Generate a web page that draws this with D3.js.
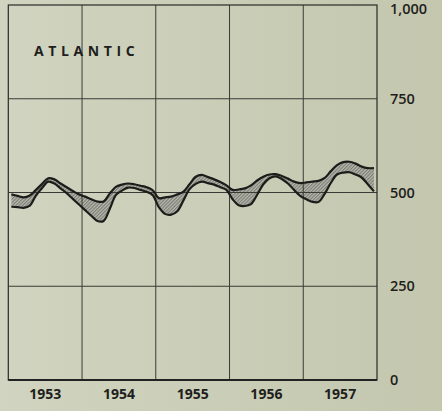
<!DOCTYPE html>
<html>
<head>
<meta charset="utf-8">
<script src="https://cdn.jsdelivr.net/npm/d3@7"></script>
<style>
  html, body { margin: 0; padding: 0; background: #ccd0ba; }
  svg { display: block; }
</style>
</head>
<body>
<div id="chart"></div>
<script>
(function () {

    var years = ["1953", "1954", "1955", "1956", "1957"];
    var yTicks = [0, 250, 500, 750, 1000];

    // monthly values, Jan 1953 - Dec 1957
    var upperSeries = [
        495, 491, 487, 492, 507, 523, 538, 535, 524, 514, 504, 495,
        489, 482, 476, 476, 497, 515, 521, 524, 522, 518, 514, 506,
        485, 487, 489, 495, 502, 522, 542, 547, 541, 535, 528, 519,
        507, 508, 511, 519, 532, 542, 548, 549, 544, 537, 529, 525,
        527, 529, 531, 539, 557, 573, 581, 582, 577, 569, 565, 565
    ];
    var lowerSeries = [
        462, 461, 459, 465, 492, 512, 529, 524, 511, 498, 483, 468,
        453, 438, 424, 424, 456, 493, 505, 513, 512, 507, 502, 493,
        461, 443, 441, 450, 479, 509, 523, 529, 525, 521, 514, 507,
        482, 466, 464, 469, 494, 522, 538, 543, 536, 524, 507, 491,
        482, 475, 475, 497, 526, 548, 553, 554, 548, 540, 522, 503
    ];

    var width = 442;
    var height = 411;
    var left = 8.3, right = 377, top = 5, bottom = 380;

    var data = upperSeries.map(function (d, i) {
        return { m: i, hi: d, lo: lowerSeries[i] };
    });

    var x = d3.scaleLinear().domain([0, upperSeries.length]).range([left, right]);
    var xYear = d3.scaleBand().domain(years).range([left, right]);
    var y = d3.scaleLinear().domain([0, 1000]).range([bottom, top]);

    var svg = d3.select("#chart").append("svg")
        .attr("width", width)
        .attr("height", height);

    var defs = svg.append("defs");
    var bg = defs.append("linearGradient").attr("id", "bg");
    bg.append("stop").attr("offset", "0%").attr("stop-color", "#d0d4c0");
    bg.append("stop").attr("offset", "100%").attr("stop-color", "#c4c7ae");

    var hatch = defs.append("pattern")
        .attr("id", "hatch")
        .attr("patternUnits", "userSpaceOnUse")
        .attr("width", 2.4)
        .attr("height", 2.4)
        .attr("patternTransform", "rotate(45)");
    hatch.append("rect").attr("width", 2.4).attr("height", 2.4).attr("fill", "#b6b8ad");
    hatch.append("line")
        .attr("x1", 0.6).attr("y1", 0).attr("x2", 0.6).attr("y2", 2.4)
        .attr("stroke", "#6c6e66").attr("stroke-width", 0.9);

    svg.append("rect")
        .attr("width", width).attr("height", height)
        .attr("fill", "url(#bg)");

    var cx = function (d) { return x(d.m + 0.5); };
    var curve = d3.curveCatmullRom.alpha(0.5);

    // band between the two lines
    svg.append("path")
        .datum(data)
        .attr("fill", "url(#hatch)")
        .attr("d", d3.area().x(cx).y0(function (d) { return y(d.lo); })
            .y1(function (d) { return y(d.hi); }).curve(curve));

    // grid
    svg.append("g")
        .selectAll("line")
        .data([250, 500, 750])
        .enter()
        .append("line")
        .attr("x1", left).attr("x2", right)
        .attr("y1", function (d) { return y(d); })
        .attr("y2", function (d) { return y(d); })
        .attr("stroke", "#3a3b35")
        .attr("stroke-width", 1);

    svg.append("g")
        .selectAll("line")
        .data(years.slice(1))
        .enter()
        .append("line")
        .attr("x1", function (d) { return xYear(d); })
        .attr("x2", function (d) { return xYear(d); })
        .attr("y1", top).attr("y2", bottom)
        .attr("stroke", "#3a3b35")
        .attr("stroke-width", 1);

    svg.append("rect")
        .attr("x", left).attr("y", top)
        .attr("width", right - left).attr("height", bottom - top)
        .attr("fill", "none")
        .attr("stroke", "#2a2b26")
        .attr("stroke-width", 1.2);

    svg.append("line")
        .attr("x1", left).attr("x2", right)
        .attr("y1", bottom).attr("y2", bottom)
        .attr("stroke", "#222")
        .attr("stroke-width", 1.8);

    // the two lines
    ["hi", "lo"].forEach(function (k) {
        svg.append("path")
            .datum(data)
            .attr("fill", "none")
            .attr("stroke", "#1c1c1a")
            .attr("stroke-width", 2.2)
            .attr("stroke-linejoin", "round")
            .attr("d", d3.line().x(cx).y(function (d) { return y(d[k]); }).curve(curve));
    });

    // axes
    var yAxis = svg.append("g")
        .attr("transform", "translate(" + right + ",0)")
        .call(d3.axisRight(y).tickValues(yTicks).tickFormat(d3.format(",")).tickSize(0).tickPadding(13));
    yAxis.select(".domain").remove();
    yAxis.selectAll("text")
        .attr("font-family", "'Open Sans', sans-serif")
        .attr("font-weight", 600)
        .attr("font-size", 14.5)
        .attr("fill", "#1e1e1c");
    // keep the top label inside the window
    yAxis.selectAll(".tick")
        .filter(function (d) { return d === 1000; })
        .select("text")
        .attr("dy", "0.32em")
        .attr("y", 4);

    var xAxis = svg.append("g")
        .attr("transform", "translate(0," + bottom + ")")
        .call(d3.axisBottom(xYear).tickSize(0).tickPadding(9));
    xAxis.select(".domain").remove();
    xAxis.selectAll("text")
        .attr("font-family", "'Open Sans', sans-serif")
        .attr("font-weight", 700)
        .attr("font-size", 14)
        .attr("fill", "#1e1e1c");

    svg.append("text")
        .attr("x", 34)
        .attr("y", 56)
        .attr("font-family", "'Open Sans', sans-serif")
        .attr("font-weight", 700)
        .attr("font-size", 14)
        .attr("letter-spacing", "4.6px")
        .attr("fill", "#1e1e1c")
        .text("ATLANTIC");
})();
</script>
</body>
</html>
